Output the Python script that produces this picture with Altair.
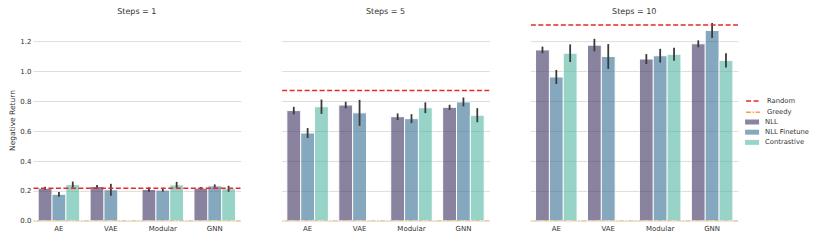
import altair as alt
import pandas as pd

encoders = ["AE", "VAE", "Modular", "GNN"]
methods = ["NLL", "NLL Finetune", "Contrastive"]
steps = [1, 5, 10]

# mean values [step][method][encoder]; None = no bar
means = {
    1: {"NLL": [0.219, 0.230, 0.210, 0.219],
        "NLL Finetune": [0.178, 0.208, 0.206, 0.234],
        "Contrastive": [0.243, None, 0.241, 0.215]},
    5: {"NLL": [0.738, 0.775, 0.697, 0.760],
        "NLL Finetune": [0.588, 0.723, 0.684, 0.796],
        "Contrastive": [0.764, None, 0.757, 0.707]},
    10: {"NLL": [1.144, 1.176, 1.083, 1.185],
         "NLL Finetune": [0.963, 1.100, 1.105, 1.274],
         "Contrastive": [1.122, None, 1.115, 1.074]},
}
errs = {
    1: {"NLL": [0.010, 0.010, 0.015, 0.008],
        "NLL Finetune": [0.016, 0.040, 0.010, 0.010],
        "Contrastive": [0.020, None, 0.020, 0.020]},
    5: {"NLL": [0.025, 0.022, 0.022, 0.017],
        "NLL Finetune": [0.033, 0.087, 0.030, 0.030],
        "Contrastive": [0.048, None, 0.036, 0.047]},
    10: {"NLL": [0.022, 0.042, 0.033, 0.023],
         "NLL Finetune": [0.047, 0.083, 0.046, 0.050],
         "Contrastive": [0.059, None, 0.043, 0.048]},
}
random_vals = [0.219, 0.872, 1.311]
greedy_vals = [0.0, 0.0, 0.0]

line_names = ["Random", "Greedy"]
line_colors = ["#e8282b", "#f3a53c"]
line_dashes = [[5, 2.5], [5, 1.5, 1.5, 1.5]]
bar_colors = ["#3c3261", "#357096", "#53b7a3"]

FONT = "DejaVu Sans"
ymax = 1.35
yticks = [0.0, 0.2, 0.4, 0.6, 0.8, 1.0, 1.2]

rows = []
for s in steps:
    for m in methods:
        for i, e in enumerate(encoders):
            v = means[s][m][i]
            if v is None:
                continue
            er = errs[s][m][i]
            rows.append({"steps": s, "encoder": e, "method": m, "mean": v,
                         "lo": v - er, "hi": v + er})
df = pd.DataFrame(rows)

lrows = []
for k, s in enumerate(steps):
    lrows.append({"steps": s, "line": "Random", "value": random_vals[k]})
    lrows.append({"steps": s, "line": "Greedy", "value": greedy_vals[k]})
ldf = pd.DataFrame(lrows)

bar_sym = "M-1.4,-0.5L1.4,-0.5L1.4,0.5L-1.4,0.5Z"
line_sym = "M-1.4,0L1.4,0"
LX = 715

def line_legend():
    return alt.Legend(title=None, orient="none", legendX=LX, legendY=76,
                      symbolType=line_sym, symbolSize=100,
                      symbolStrokeWidth=1.5, labelFontSize=6.8,
                      labelColor="#333", rowPadding=1.2, labelOffset=8)

panels = []
for k, s in enumerate(steps):
    first = k == 0
    yaxis = alt.Axis(values=yticks, format=".1f", grid=True, domain=False, ticks=False,
                     labels=first, title="Negative Return" if first else None,
                     labelFontSize=7, titleFontSize=7.5, titleFontWeight="normal",
                     labelPadding=2, titlePadding=3, labelColor="#333", titleColor="#333",
                     domainOpacity=0, tickOpacity=0,
                     tickCount=7, labelOverlap=False)
    yscale = alt.Scale(domain=[0, ymax], nice=False, zero=True)
    xenc = alt.X("encoder:N", sort=encoders,
                 scale=alt.Scale(domain=encoders, paddingInner=0.2, paddingOuter=0.1),
                 axis=alt.Axis(title=None, domain=False, ticks=False, labelAngle=0,
                               labelFontSize=7, labelPadding=4, labelColor="#333", grid=False))
    xoff = alt.XOffset("method:N", sort=methods, scale=alt.Scale(domain=methods))
    d = df[df.steps == s]
    bars = alt.Chart(d).mark_bar(opacity=0.6, stroke="white", strokeWidth=1).encode(
        x=xenc, xOffset=xoff,
        y=alt.Y("mean:Q", scale=yscale, axis=yaxis),
        fill=alt.Fill("method:N", sort=methods,
                      scale=alt.Scale(domain=methods, range=bar_colors),
                      legend=alt.Legend(title=None, orient="none", legendX=LX, legendY=98,
                                        symbolType=bar_sym, symbolSize=100, symbolOpacity=0.6,
                                        symbolStrokeWidth=0, labelFontSize=6.8, labelColor="#333",
                                        rowPadding=1.2, labelOffset=8)),
    )
    ebars = alt.Chart(d).mark_rule(color="#3a3a3a", strokeWidth=1.8).encode(
        x=xenc, xOffset=xoff, y=alt.Y("lo:Q", scale=yscale, axis=yaxis), y2="hi:Q")
    lines = alt.Chart(ldf[ldf.steps == s]).mark_rule(strokeWidth=1.5, clip=True).encode(
        y=alt.Y("value:Q", scale=yscale, axis=yaxis),
        stroke=alt.Stroke("line:N", sort=line_names,
                          scale=alt.Scale(domain=line_names, range=line_colors),
                          legend=line_legend()),
        strokeDash=alt.StrokeDash("line:N", sort=line_names,
                                  scale=alt.Scale(domain=line_names, range=line_dashes),
                                  legend=line_legend()),
    )
    p = alt.layer(bars, ebars, lines).properties(
        width=208, height=202,
        view=alt.ViewBackground(stroke="transparent", strokeWidth=0),
        title=alt.TitleParams(f"Steps = {s}", fontSize=8, fontWeight="normal",
                              color="#333", offset=3, font=FONT))
    panels.append(p)

chart = alt.hconcat(*panels, spacing=41).properties(padding=0).configure_view(
    strokeWidth=0, stroke="transparent").configure_axis(
    gridColor="#e2e2e2", gridWidth=1, domain=False, ticks=False,
    labelFont=FONT, titleFont=FONT).configure_legend(
    labelFont=FONT).configure(font=FONT)

chart.save("out.html", embed_options={"renderer": "svg", "actions": False})
